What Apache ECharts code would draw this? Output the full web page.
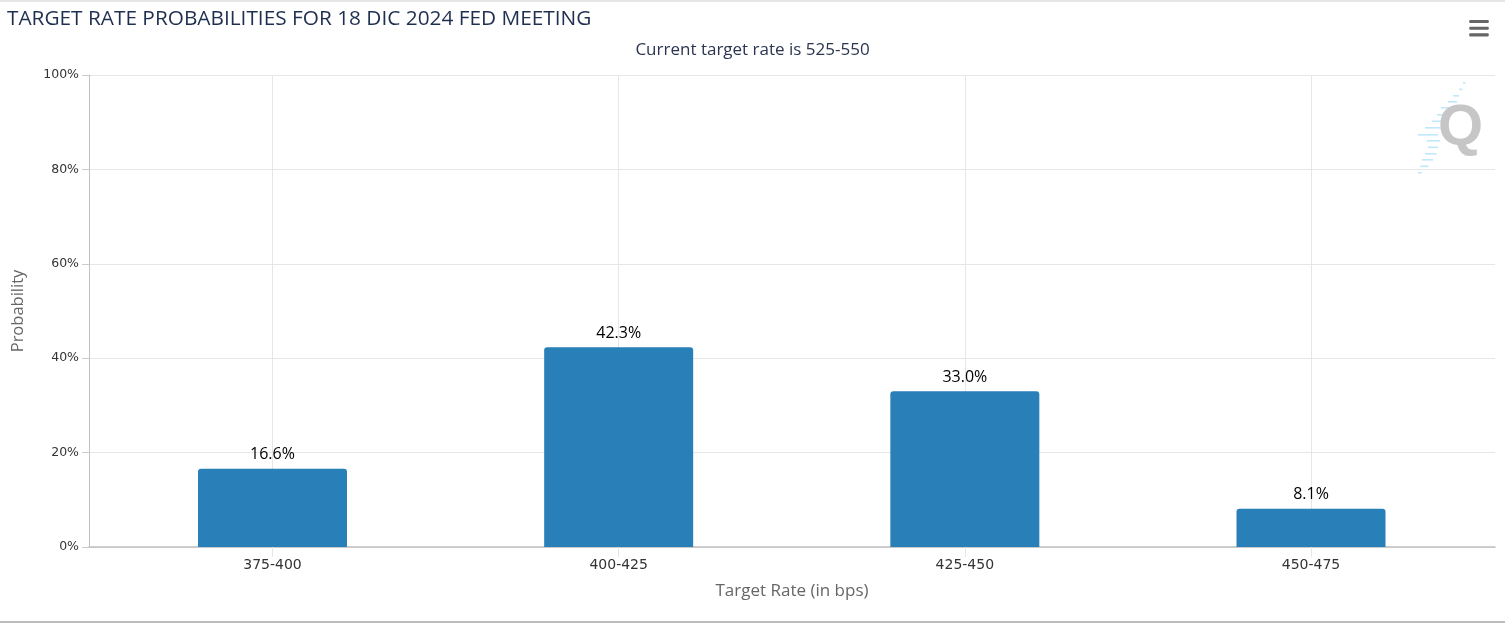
<!DOCTYPE html>
<html><head><meta charset="utf-8">
<script src="https://cdn.jsdelivr.net/npm/echarts@6/dist/echarts.min.js"></script>
<style>
html,body{margin:0;padding:0;background:#fff;}
#c{width:1505px;height:623px;position:absolute;left:0;top:0;}
.bt{position:absolute;left:0;top:0;width:1505px;height:2px;background:#e6e6e6;z-index:5;}
.bb{position:absolute;left:0;top:621px;width:1505px;height:2px;background:#bdbdbd;z-index:5;}
</style></head><body>
<div id="c"></div><div class="bt"></div><div class="bb"></div>
<script>
const categories = ['375-400', '400-425', '425-450', '450-475'];
const probabilities = [16.6, 42.3, 33.0, 8.1];
const yTicks = [0, 20, 40, 60, 80, 100];

const font = 'Open Sans, DejaVu Sans, sans-serif';
const font2 = 'DejaVu Sans, sans-serif';
const chart = echarts.init(document.getElementById('c'), null, {renderer: 'canvas'});
// decorative watermark stripes (logo), not data
const stripeDefs = [[1463,82,2.5],[1459,88.5,3.5],[1453,95,6],[1448,101,9],[1441,107,10.5],[1437,114,10],[1432,120.5,11.5],[1425,127,16.5],[1418,134,20],[1427,140,13],[1428,146.5,10],[1425,153,11.5],[1422,159,11],[1420,165.5,8.5],[1418,172,3.5]];
const stripes = stripeDefs.map(s => ({type: 'rect', silent: true, z: 1,
  shape: {x: s[0], y: s[1], width: s[2], height: 1.6}, style: {fill: '#bfe8fa'}}));
chart.setOption({
  animation: false,
  title: [{
    text: 'TARGET RATE PROBABILITIES FOR 18 DIC 2024 FED MEETING',
    left: 2, top: 4,
    textStyle: {fontFamily: font, fontSize: 20.8, fontWeight: 'normal', color: '#1f2f4f'}
  }, {
    text: 'Current target rate is 525-550',
    left: 'center', top: 37,
    textStyle: {fontFamily: font, fontSize: 17, fontWeight: 'normal', color: '#2b3550'}
  }],
  toolbox: {
    right: 1, top: 5, itemSize: 20,
    iconStyle: {color: '#666', borderColor: '#666', borderWidth: 0},
    feature: {
      myMenu: {
        show: true, title: ' ',
        icon: 'path://M2,3 L20,3 Q21.5,4.5 20,6 L2,6 Q0.5,4.5 2,3 Z M2,9.5 L20,9.5 Q21.5,11 20,12.5 L2,12.5 Q0.5,11 2,9.5 Z M2,16 L20,16 Q21.5,17.5 20,19 L2,19 Q0.5,17.5 2,16 Z',
        onclick: function () {}
      }
    }
  },
  graphic: stripes.concat([{
    type: 'text', left: 1438, top: 100, silent: true, z: 2,
    style: {text: 'Q', font: 'bold 58px Liberation Sans, Arial, sans-serif', fill: '#c6c6c6'}
  }]),
  grid: [
    {left: 89, right: 10, top: 75, bottom: 76},
    {left: 272.5, right: 194, top: 75, bottom: 76}
  ],
  xAxis: [{
    gridIndex: 0, type: 'value', min: 0, max: 1,
    name: 'Target Rate (in bps)', nameLocation: 'middle', nameGap: 36,
    nameTextStyle: {fontFamily: font, fontSize: 17, color: '#666'},
    axisLine: {show: true, lineStyle: {color: '#c0c0c0', width: 1.5}},
    axisTick: {show: false}, axisLabel: {show: false}, splitLine: {show: false}
  }, {
    gridIndex: 1, type: 'value', min: 0, max: categories.length - 1, interval: 1,
    axisLine: {show: false},
    axisTick: {show: true, length: 10, lineStyle: {color: '#e6e6e6'}},
    axisLabel: {fontFamily: font2, fontSize: 14, color: '#333', margin: 11,
      formatter: v => categories[v] || ''},
    splitLine: {show: true, lineStyle: {color: '#e6e6e6'}}
  }],
  yAxis: [{
    gridIndex: 0, type: 'value', min: 0, max: 100, interval: 20,
    name: 'Probability', nameLocation: 'middle', nameGap: 62,
    nameTextStyle: {fontFamily: font, fontSize: 16.5, color: '#666'},
    axisLine: {show: true, lineStyle: {color: '#c0c0c0'}},
    axisTick: {show: true, length: 7, lineStyle: {color: '#ccc'}},
    axisLabel: {fontFamily: font2, fontSize: 12.5, color: '#333', margin: 10,
      formatter: v => yTicks.includes(v) ? v + '%' : ''},
    splitLine: {show: true, lineStyle: {color: '#e6e6e6'}}
  }, {
    gridIndex: 1, type: 'value', min: 0, max: 100, interval: 20, show: false
  }],
  series: [{
    type: 'bar', xAxisIndex: 1, yAxisIndex: 1,
    barWidth: 149,
    data: probabilities.map((v, i) => [i, v]),
    itemStyle: {color: '#2980b9', borderRadius: [3, 3, 0, 0]},
    label: {show: true, position: 'top', distance: 6,
      fontFamily: font, fontSize: 16, color: '#000',
      formatter: p => p.value[1].toFixed(1) + '%'}
  }]
});
</script>
</body></html>
